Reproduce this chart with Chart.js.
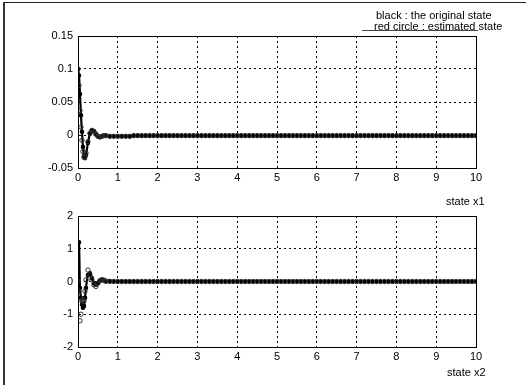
<!DOCTYPE html>
<html>
<head>
<meta charset="utf-8">
<script src="https://cdn.jsdelivr.net/npm/chart.js@4"></script>
<style>
  html, body { margin:0; padding:0; background:#fff; }
  #wrap { position:relative; width:526px; height:385px; overflow:hidden; background:#fff; font-family:"Liberation Sans", Arial, sans-serif; color:#000; }
  canvas { position:absolute; left:0; }
  .txt { position:absolute; font-size:11px; line-height:12px; white-space:nowrap; }
  #frameTop { position:absolute; left:3px; top:2px; width:523px; height:1px; background:#222; }
  #frameLeft { position:absolute; left:3px; top:2px; width:2px; height:383px; background:#333; }
  #uline { position:absolute; left:362px; top:30px; width:116px; height:1px; background:#444; }
</style>
</head>
<body>
<div id="wrap">
  <div id="frameTop"></div>
  <div id="frameLeft"></div>
  <canvas id="c1" width="526" height="190" style="top:0px"></canvas>
  <canvas id="c2" width="526" height="195" style="top:190px"></canvas>
  <div class="txt" style="left:376px; top:9px;">black : the original state</div>
  <div class="txt" style="left:374px; top:20px;">red circle : estimated state</div>
  <div id="uline"></div>
  <div class="txt" style="left:446px; top:195px;">state x1</div>
  <div class="txt" style="left:447px; top:366px;">state x2</div>
</div>
<script>
// ---- data ----
const time = [
  0, 0.025, 0.05, 0.075, 0.1, 0.125, 0.15, 0.175, 0.2, 0.25, 0.3, 0.35, 0.4, 0.45, 0.5, 0.55, 0.6, 0.65,
  0.7, 0.8, 0.9, 1.0, 1.1, 1.2, 1.3, 1.4, 1.5, 1.6, 1.7, 1.8, 1.9, 2.0,
  2.1, 2.2, 2.3, 2.4, 2.5, 2.6, 2.7, 2.8, 2.9, 3.0,
  3.1, 3.2, 3.3, 3.4, 3.5, 3.6, 3.7, 3.8, 3.9, 4.0,
  4.1, 4.2, 4.3, 4.4, 4.5, 4.6, 4.7, 4.8, 4.9, 5.0,
  5.1, 5.2, 5.3, 5.4, 5.5, 5.6, 5.7, 5.8, 5.9, 6.0,
  6.1, 6.2, 6.3, 6.4, 6.5, 6.6, 6.7, 6.8, 6.9, 7.0,
  7.1, 7.2, 7.3, 7.4, 7.5, 7.6, 7.7, 7.8, 7.9, 8.0,
  8.1, 8.2, 8.3, 8.4, 8.5, 8.6, 8.7, 8.8, 8.9, 9.0,
  9.1, 9.2, 9.3, 9.4, 9.5, 9.6, 9.7, 9.8, 9.9, 10.0
];
const x1Original = [
  0.1, 0.09, 0.062, 0.03, 0.005, -0.018, -0.032, -0.035, -0.03, -0.012, 0.002, 0.007, 0.006, 0.002, -0.002, -0.003, -0.002, -0.001,
  -0.001, -0.002, -0.002, -0.002, -0.002, -0.002, -0.002, -0.001, -0.001, -0.001, -0.001, -0.001, -0.001, -0.001,
  -0.001, -0.001, -0.001, -0.001, -0.001, -0.001, -0.001, -0.001, -0.001, -0.001,
  -0.001, -0.001, -0.001, -0.001, -0.001, -0.001, -0.001, -0.001, -0.001, -0.001,
  -0.001, -0.001, -0.001, -0.001, -0.001, -0.001, -0.001, -0.001, -0.001, -0.001,
  -0.001, -0.001, -0.001, -0.001, -0.001, -0.001, -0.001, -0.001, -0.001, -0.001,
  -0.001, -0.001, -0.001, -0.001, -0.001, -0.001, -0.001, -0.001, -0.001, -0.001,
  -0.001, -0.001, -0.001, -0.001, -0.001, -0.001, -0.001, -0.001, -0.001, -0.001,
  -0.001, -0.001, -0.001, -0.001, -0.001, -0.001, -0.001, -0.001, -0.001, -0.001,
  -0.001, -0.001, -0.001, -0.001, -0.001, -0.001, -0.001, -0.001, -0.001, -0.001
];
const x1Estimated = [
  0.1, 0.075, 0.037, 0.012, -0.008, -0.025, -0.034, -0.033, -0.027, -0.01, 0.003, 0.007, 0.005, 0.001, -0.002, -0.003, -0.002, -0.001,
  -0.001, -0.002, -0.002, -0.002, -0.002, -0.002, -0.002, -0.001, -0.001, -0.001, -0.001, -0.001, -0.001, -0.001,
  -0.001, -0.001, -0.001, -0.001, -0.001, -0.001, -0.001, -0.001, -0.001, -0.001,
  -0.001, -0.001, -0.001, -0.001, -0.001, -0.001, -0.001, -0.001, -0.001, -0.001,
  -0.001, -0.001, -0.001, -0.001, -0.001, -0.001, -0.001, -0.001, -0.001, -0.001,
  -0.001, -0.001, -0.001, -0.001, -0.001, -0.001, -0.001, -0.001, -0.001, -0.001,
  -0.001, -0.001, -0.001, -0.001, -0.001, -0.001, -0.001, -0.001, -0.001, -0.001,
  -0.001, -0.001, -0.001, -0.001, -0.001, -0.001, -0.001, -0.001, -0.001, -0.001,
  -0.001, -0.001, -0.001, -0.001, -0.001, -0.001, -0.001, -0.001, -0.001, -0.001,
  -0.001, -0.001, -0.001, -0.001, -0.001, -0.001, -0.001, -0.001, -0.001, -0.001
];
const x2Original = [
  0, 1.2, -0.2, -0.5, -0.7, -0.8, -0.75, -0.5, -0.2, 0.2, 0.25, 0.1, -0.05, -0.1, -0.05, 0.03, 0.06, 0.05,
  0.02, 0.01, 0, 0, 0, 0, 0, 0, 0, 0, 0, 0, 0, 0,
  0, 0, 0, 0, 0, 0, 0, 0, 0, 0,
  0, 0, 0, 0, 0, 0, 0, 0, 0, 0,
  0, 0, 0, 0, 0, 0, 0, 0, 0, 0,
  0, 0, 0, 0, 0, 0, 0, 0, 0, 0,
  0, 0, 0, 0, 0, 0, 0, 0, 0, 0,
  0, 0, 0, 0, 0, 0, 0, 0, 0, 0,
  0, 0, 0, 0, 0, 0, 0, 0, 0, 0,
  0, 0, 0, 0, 0, 0, 0, 0, 0, 0
];
const x2Estimated = [
  0, -0.3, -1.2, -1.0, -0.6, -0.55, -0.6, -0.3, 0.05, 0.35, 0.2, 0.05, -0.1, -0.15, -0.05, 0.02, 0.05, 0.03,
  0, 0, 0, 0, 0, 0, 0, 0, 0, 0, 0, 0, 0, 0,
  0, 0, 0, 0, 0, 0, 0, 0, 0, 0,
  0, 0, 0, 0, 0, 0, 0, 0, 0, 0,
  0, 0, 0, 0, 0, 0, 0, 0, 0, 0,
  0, 0, 0, 0, 0, 0, 0, 0, 0, 0,
  0, 0, 0, 0, 0, 0, 0, 0, 0, 0,
  0, 0, 0, 0, 0, 0, 0, 0, 0, 0,
  0, 0, 0, 0, 0, 0, 0, 0, 0, 0,
  0, 0, 0, 0, 0, 0, 0, 0, 0, 0
];
const xTicks = [0, 1, 2, 3, 4, 5, 6, 7, 8, 9, 10];
const x1Ticks = [-0.05, 0, 0.05, 0.1, 0.15];
const x1TickLabels = ["-0.05", "0", "0.05", "0.1", "0.15"];
const x2Ticks = [-2, -1, 0, 1, 2];
const x2TickLabels = ["-2", "-1", "0", "1", "2"];

// ---- chart building ----
const FONT = { family: '"Liberation Sans", Arial, sans-serif', size: 11 };
const boxPlugin = {
  id: 'box',
  afterDraw(chart) {
    const a = chart.chartArea, ctx = chart.ctx;
    ctx.save();
    ctx.strokeStyle = '#000';
    ctx.lineWidth = 1;
    ctx.strokeRect(Math.round(a.left) + 0.5, Math.round(a.top) + 0.5, Math.round(a.right - a.left), Math.round(a.bottom - a.top));
    ctx.restore();
  }
};

function pts(ys) { return time.map((t, i) => ({ x: t, y: ys[i] })); }

function makeChart(id, orig, est, yT, yL, padTop, xAxisH) {
  new Chart(document.getElementById(id), {
    type: 'line',
    data: {
      datasets: [
        { data: pts(est), showLine: false, pointRadius: 2.2, pointBorderWidth: 1,
          pointBorderColor: '#333', pointBackgroundColor: 'rgba(0,0,0,0)', borderColor: '#333' },
        { data: pts(orig), borderColor: '#000', borderWidth: 2.2, pointRadius: 1.2,
          pointBackgroundColor: '#000', pointBorderColor: '#000', tension: 0.3 }
      ]
    },
    options: {
      responsive: false, animation: false, devicePixelRatio: 1,
      layout: { padding: { left: 0, right: 50, top: padTop, bottom: 0 } },
      plugins: { legend: { display: false }, tooltip: { enabled: false } },
      scales: {
        x: {
          type: 'linear', min: 0, max: 10,
          afterBuildTicks: s => { s.ticks = xTicks.map(v => ({ value: v })); },
          afterFit: s => { s.height = xAxisH; },
          ticks: { font: FONT, color: '#000', padding: 3, maxRotation: 0, autoSkip: false,
                   callback: v => String(v) },
          grid: { color: '#000', lineWidth: 1, drawTicks: false },
          border: { display: true, color: '#000', dash: [2, 3] }
        },
        y: {
          min: yT[0], max: yT[yT.length - 1],
          afterBuildTicks: s => { s.ticks = yT.map(v => ({ value: v })); },
          afterFit: s => { s.width = 78; },
          ticks: { font: FONT, color: '#000', padding: 5, autoSkip: false,
                   callback: (v) => { const i = yT.indexOf(v); return i >= 0 ? yL[i] : ''; } },
          grid: { color: '#000', lineWidth: 1, drawTicks: false },
          border: { display: true, color: '#000', dash: [2, 3] }
        }
      }
    },
    plugins: [boxPlugin]
  });
}

makeChart('c1', x1Original, x1Estimated, x1Ticks, x1TickLabels, 36, 22);
makeChart('c2', x2Original, x2Estimated, x2Ticks, x2TickLabels, 26, 38);
</script>
</body>
</html>
